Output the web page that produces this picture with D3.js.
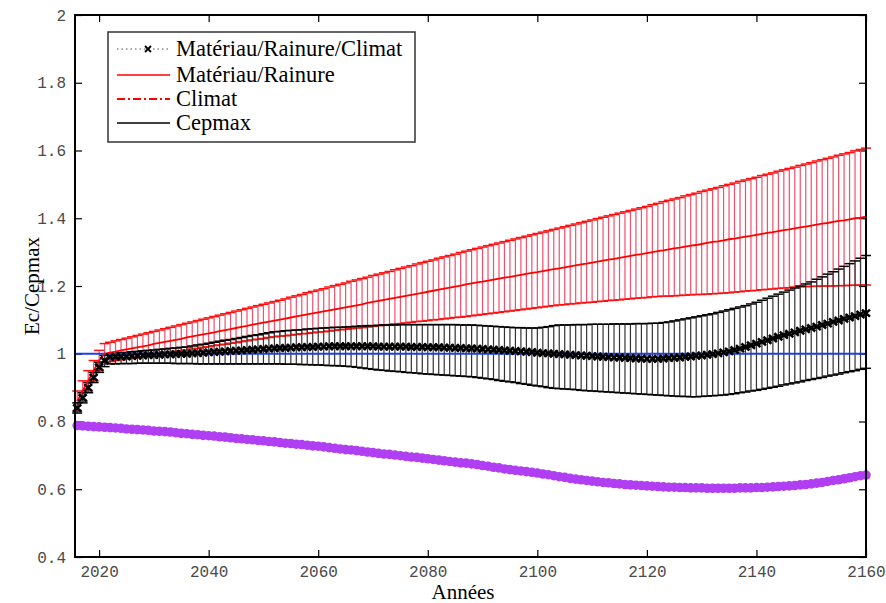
<!DOCTYPE html>
<html>
<head>
<meta charset="utf-8">
<script src="https://d3js.org/d3.v7.min.js"></script>
<style>
body { margin: 0; background: #fff; }
.tick text { font-family: "Liberation Mono", monospace; font-size: 16px; fill: #4a4a4a; }
.tick line { stroke: #000; stroke-width: 1.2px; }
.axisTitle { font-family: "Liberation Serif", serif; font-size: 21px; fill: #000; }
.legendText { font-family: "Liberation Serif", serif; font-size: 22.5px; fill: #000; }
</style>
</head>
<body>
<div id="chart"></div>
<script>
// one value per year, 2016 .. 2160
var years = d3.range(2016, 2161);

var xTicks = [2020, 2040, 2060, 2080, 2100, 2120, 2140, 2160];
var yTicks = [0.4, 0.6, 0.8, 1, 1.2, 1.4, 1.6, 1.8, 2];
var yTickLabels = ["0.4", "0.6", "0.8", "1", "1.2", "1.4", "1.6", "1.8", "2"];

var legendLabels = ["Matériau/Rainure/Climat", "Matériau/Rainure", "Climat", "Cepmax"];

var cepmaxValue = 1;

// Matériau/Rainure (red)
var redMean = [
  0.860,0.890,0.920,0.950,0.980,1.000,1.003,1.006,1.010,1.013,
  1.016,1.019,1.022,1.025,1.029,1.032,1.035,1.038,1.041,1.044,
  1.048,1.051,1.054,1.057,1.060,1.063,1.067,1.070,1.073,1.076,
  1.079,1.082,1.086,1.089,1.092,1.095,1.098,1.101,1.104,1.107,
  1.110,1.113,1.116,1.119,1.122,1.125,1.128,1.131,1.134,1.137,
  1.140,1.143,1.146,1.150,1.153,1.156,1.159,1.162,1.165,1.168,
  1.171,1.174,1.177,1.180,1.183,1.186,1.189,1.192,1.195,1.198,
  1.201,1.205,1.208,1.211,1.213,1.216,1.219,1.222,1.225,1.227,
  1.230,1.233,1.236,1.239,1.241,1.244,1.247,1.250,1.252,1.255,
  1.258,1.261,1.264,1.266,1.269,1.272,1.275,1.278,1.280,1.283,
  1.286,1.289,1.292,1.294,1.297,1.300,1.303,1.305,1.308,1.311,
  1.313,1.316,1.319,1.321,1.324,1.327,1.330,1.332,1.335,1.338,
  1.340,1.343,1.346,1.348,1.351,1.354,1.357,1.359,1.362,1.365,
  1.367,1.370,1.373,1.375,1.378,1.381,1.384,1.386,1.389,1.392,
  1.394,1.397,1.400,1.402,1.405];

var redHigh = [
  0.890,0.920,0.950,0.980,1.010,1.030,1.034,1.038,1.042,1.046,
  1.050,1.054,1.058,1.062,1.066,1.070,1.074,1.078,1.082,1.086,
  1.090,1.094,1.098,1.102,1.106,1.110,1.114,1.118,1.122,1.126,
  1.130,1.134,1.138,1.142,1.146,1.150,1.154,1.158,1.162,1.167,
  1.171,1.175,1.180,1.184,1.188,1.192,1.197,1.201,1.205,1.209,
  1.214,1.218,1.222,1.226,1.231,1.235,1.239,1.243,1.248,1.252,
  1.256,1.260,1.265,1.269,1.273,1.277,1.282,1.286,1.290,1.294,
  1.299,1.303,1.307,1.311,1.315,1.319,1.323,1.327,1.331,1.335,
  1.339,1.343,1.347,1.351,1.355,1.359,1.363,1.367,1.371,1.375,
  1.379,1.383,1.387,1.391,1.395,1.399,1.403,1.407,1.411,1.415,
  1.419,1.423,1.427,1.431,1.435,1.440,1.444,1.449,1.453,1.457,
  1.461,1.466,1.470,1.474,1.479,1.483,1.487,1.491,1.496,1.500,
  1.504,1.509,1.513,1.517,1.521,1.526,1.530,1.534,1.539,1.543,
  1.547,1.551,1.556,1.560,1.564,1.569,1.573,1.577,1.581,1.586,
  1.590,1.594,1.599,1.603,1.607];

var redLow = [
  0.830,0.860,0.890,0.920,0.950,0.975,0.977,0.980,0.982,0.985,
  0.987,0.990,0.992,0.994,0.997,0.999,1.002,1.004,1.007,1.009,
  1.011,1.014,1.016,1.019,1.021,1.024,1.026,1.028,1.031,1.033,
  1.036,1.038,1.041,1.043,1.045,1.048,1.050,1.052,1.053,1.055,
  1.057,1.059,1.060,1.062,1.064,1.065,1.067,1.069,1.071,1.072,
  1.074,1.076,1.077,1.079,1.081,1.083,1.084,1.086,1.088,1.089,
  1.091,1.093,1.095,1.096,1.098,1.100,1.101,1.103,1.105,1.107,
  1.108,1.110,1.112,1.114,1.116,1.118,1.120,1.122,1.124,1.126,
  1.128,1.130,1.132,1.134,1.136,1.138,1.140,1.142,1.144,1.145,
  1.147,1.148,1.150,1.151,1.152,1.154,1.155,1.157,1.158,1.159,
  1.161,1.162,1.164,1.165,1.166,1.168,1.169,1.170,1.170,1.171,
  1.172,1.173,1.174,1.175,1.175,1.176,1.177,1.178,1.179,1.180,
  1.182,1.183,1.185,1.186,1.187,1.189,1.190,1.191,1.193,1.194,
  1.195,1.197,1.198,1.198,1.199,1.199,1.200,1.200,1.200,1.201,
  1.201,1.202,1.202,1.203,1.203];

// Matériau/Rainure/Climat (black)
var blackMean = [
  0.840,0.870,0.900,0.930,0.960,0.980,0.990,0.991,0.992,0.992,
  0.993,0.994,0.995,0.996,0.996,0.997,0.998,0.998,0.999,1.000,
  1.000,1.001,1.002,1.003,1.004,1.005,1.006,1.007,1.008,1.009,
  1.010,1.011,1.012,1.013,1.014,1.015,1.016,1.017,1.017,1.018,
  1.019,1.019,1.020,1.020,1.021,1.021,1.022,1.022,1.022,1.022,
  1.022,1.022,1.022,1.022,1.022,1.021,1.021,1.021,1.021,1.021,
  1.021,1.020,1.020,1.020,1.019,1.019,1.019,1.018,1.018,1.017,
  1.017,1.016,1.016,1.015,1.014,1.013,1.012,1.011,1.010,1.009,
  1.008,1.007,1.006,1.005,1.003,1.002,1.001,1.000,0.999,0.998,
  0.997,0.996,0.995,0.994,0.993,0.992,0.991,0.990,0.989,0.989,
  0.988,0.987,0.986,0.986,0.985,0.985,0.985,0.986,0.987,0.988,
  0.989,0.991,0.992,0.994,0.995,0.997,0.999,1.001,1.004,1.007,
  1.011,1.015,1.020,1.025,1.030,1.035,1.040,1.045,1.050,1.055,
  1.059,1.063,1.068,1.072,1.076,1.080,1.085,1.089,1.094,1.098,
  1.103,1.107,1.111,1.116,1.120];

var blackHigh = [
  0.855,0.885,0.915,0.945,0.975,0.995,1.000,1.001,1.003,1.004,
  1.006,1.007,1.009,1.010,1.011,1.013,1.014,1.016,1.017,1.019,
  1.020,1.023,1.026,1.028,1.031,1.034,1.037,1.040,1.042,1.045,
  1.048,1.051,1.054,1.056,1.059,1.062,1.065,1.066,1.068,1.069,
  1.070,1.071,1.073,1.074,1.075,1.076,1.077,1.078,1.078,1.079,
  1.080,1.081,1.082,1.083,1.083,1.084,1.085,1.085,1.085,1.086,
  1.086,1.086,1.086,1.086,1.086,1.086,1.086,1.086,1.086,1.086,
  1.085,1.085,1.085,1.084,1.083,1.082,1.081,1.080,1.079,1.078,
  1.077,1.077,1.076,1.076,1.076,1.078,1.080,1.083,1.085,1.085,
  1.085,1.086,1.086,1.086,1.087,1.087,1.087,1.087,1.088,1.088,
  1.088,1.088,1.089,1.089,1.089,1.090,1.090,1.092,1.094,1.097,
  1.100,1.103,1.106,1.109,1.112,1.115,1.118,1.122,1.126,1.130,
  1.134,1.138,1.142,1.147,1.152,1.158,1.164,1.170,1.176,1.182,
  1.188,1.194,1.200,1.206,1.212,1.220,1.227,1.235,1.242,1.250,
  1.258,1.266,1.274,1.282,1.290];

var blackLow = [
  0.825,0.855,0.885,0.915,0.945,0.962,0.970,0.970,0.971,0.971,
  0.971,0.972,0.972,0.972,0.972,0.972,0.972,0.972,0.971,0.971,
  0.971,0.971,0.970,0.970,0.970,0.970,0.970,0.970,0.970,0.970,
  0.970,0.970,0.970,0.970,0.970,0.970,0.970,0.970,0.969,0.969,
  0.969,0.968,0.968,0.967,0.967,0.966,0.965,0.965,0.964,0.963,
  0.962,0.960,0.958,0.956,0.954,0.952,0.951,0.949,0.948,0.947,
  0.945,0.944,0.943,0.941,0.940,0.939,0.938,0.937,0.936,0.935,
  0.934,0.933,0.932,0.930,0.928,0.926,0.924,0.921,0.919,0.917,
  0.915,0.912,0.910,0.907,0.905,0.903,0.900,0.898,0.897,0.896,
  0.895,0.894,0.892,0.891,0.890,0.889,0.888,0.887,0.886,0.885,
  0.884,0.883,0.882,0.881,0.880,0.879,0.878,0.877,0.876,0.875,
  0.874,0.874,0.873,0.873,0.874,0.875,0.876,0.877,0.878,0.880,
  0.882,0.885,0.887,0.890,0.892,0.895,0.898,0.901,0.904,0.908,
  0.911,0.914,0.917,0.921,0.924,0.927,0.930,0.934,0.937,0.940,
  0.944,0.947,0.950,0.954,0.957];

// purple curve
var purpleLine = [
  0.788,0.787,0.786,0.785,0.784,0.783,0.782,0.781,0.780,0.778,
  0.777,0.776,0.775,0.774,0.772,0.771,0.770,0.769,0.767,0.765,
  0.764,0.762,0.761,0.759,0.758,0.757,0.755,0.754,0.752,0.750,
  0.749,0.747,0.746,0.744,0.743,0.741,0.740,0.738,0.736,0.735,
  0.733,0.732,0.730,0.728,0.727,0.725,0.723,0.721,0.719,0.717,
  0.716,0.714,0.712,0.710,0.708,0.706,0.704,0.703,0.701,0.699,
  0.697,0.695,0.694,0.692,0.690,0.688,0.686,0.684,0.682,0.680,
  0.678,0.677,0.675,0.673,0.670,0.668,0.665,0.663,0.660,0.658,
  0.656,0.654,0.652,0.650,0.648,0.645,0.643,0.640,0.637,0.635,
  0.632,0.630,0.628,0.626,0.624,0.622,0.620,0.619,0.617,0.616,
  0.614,0.613,0.612,0.611,0.610,0.609,0.608,0.607,0.606,0.606,
  0.605,0.605,0.604,0.604,0.604,0.603,0.603,0.603,0.603,0.603,
  0.603,0.604,0.604,0.604,0.605,0.605,0.606,0.607,0.608,0.609,
  0.610,0.611,0.613,0.614,0.616,0.618,0.620,0.623,0.626,0.628,
  0.631,0.634,0.637,0.640,0.642];

var margin = {top: 15, right: 20, bottom: 46, left: 75};
var width = 886 - margin.left - margin.right,
    height = 603 - margin.top - margin.bottom;

var svg = d3.select("#chart").append("svg")
    .attr("width", 886)
    .attr("height", 603);

var chart = svg.append("g")
    .attr("transform", "translate(" + margin.left + "," + margin.top + ")");

var x = d3.scaleLinear().domain([2015.6, 2160]).range([0, width]);
var y = d3.scaleLinear().domain([0.4, 2]).range([height, 0]);

// axes, ticks pointing inward
chart.append("g")
    .attr("transform", "translate(0," + height + ")")
    .call(d3.axisBottom(x).tickValues(xTicks).tickFormat(d3.format("d"))
        .tickSizeInner(-7).tickSizeOuter(0).tickPadding(9));
chart.append("g")
    .call(d3.axisTop(x).tickValues(xTicks).tickFormat("")
        .tickSizeInner(-7).tickSizeOuter(0));
chart.append("g")
    .call(d3.axisLeft(y).tickValues(yTicks)
        .tickFormat(function(d, i) { return yTickLabels[i]; })
        .tickSizeInner(-7).tickSizeOuter(0).tickPadding(9));
chart.append("g")
    .attr("transform", "translate(" + width + ",0)")
    .call(d3.axisRight(y).tickValues(yTicks).tickFormat("")
        .tickSizeInner(-7).tickSizeOuter(0));
chart.selectAll(".domain").remove();

function drawErrorBars(lows, highs, barColor, capColor) {
    var g = chart.append("g");
    g.selectAll(".ebar").data(years)
        .enter().append("line")
        .attr("class", "ebar")
        .attr("x1", function(d) { return x(d); })
        .attr("x2", function(d) { return x(d); })
        .attr("y1", function(d, i) { return y(lows[i]); })
        .attr("y2", function(d, i) { return y(highs[i]); })
        .attr("stroke", barColor)
        .attr("stroke-width", 1.2);
    [lows, highs].forEach(function(vals) {
        g.selectAll(null).data(years)
            .enter().append("line")
            .attr("x1", function(d) { return x(d) - 5; })
            .attr("x2", function(d) { return x(d) + 5; })
            .attr("y1", function(d, i) { return y(vals[i]); })
            .attr("y2", function(d, i) { return y(vals[i]); })
            .attr("stroke", capColor)
            .attr("stroke-width", 1.5);
    });
}

drawErrorBars(redLow, redHigh, "#f0506c", "#ff1010");
drawErrorBars(blackLow, blackHigh, "#333", "#000");

// Cepmax level
chart.append("line")
    .attr("x1", 0).attr("x2", width)
    .attr("y1", y(cepmaxValue)).attr("y2", y(cepmaxValue))
    .attr("stroke", "#1f3fe0")
    .attr("stroke-width", 2);

chart.selectAll(".purpleDot").data(years)
    .enter().append("circle")
    .attr("class", "purpleDot")
    .attr("cx", function(d) { return x(d); })
    .attr("cy", function(d, i) { return y(purpleLine[i]); })
    .attr("r", 4.8)
    .attr("fill", "#b03ef2");

var line = function(vals) {
    return d3.line()
        .x(function(d) { return x(d); })
        .y(function(d, i) { return y(vals[i]); })(years);
};

chart.append("path")
    .attr("d", line(redMean))
    .attr("fill", "none")
    .attr("stroke", "#ff0000")
    .attr("stroke-width", 1.8);

chart.append("path")
    .attr("d", line(blackMean))
    .attr("fill", "none")
    .attr("stroke", "#000")
    .attr("stroke-width", 2)
    .attr("stroke-dasharray", "1,2");

chart.selectAll(".xMark").data(years)
    .enter().append("path")
    .attr("class", "xMark")
    .attr("d", "M-4,-3.5L4,3.5M-4,3.5L4,-3.5")
    .attr("transform", function(d, i) { return "translate(" + x(d) + "," + y(blackMean[i]) + ")"; })
    .attr("stroke", "#000")
    .attr("stroke-width", 2.5);

// frame
chart.append("rect")
    .attr("width", width)
    .attr("height", height)
    .attr("fill", "none")
    .attr("stroke", "#000")
    .attr("stroke-width", 2);

// axis titles
svg.append("text")
    .attr("class", "axisTitle")
    .attr("x", 463)
    .attr("y", 599)
    .attr("text-anchor", "middle")
    .text("Années");
svg.append("text")
    .attr("class", "axisTitle")
    .attr("transform", "translate(39,286) rotate(-90)")
    .attr("text-anchor", "middle")
    .text("Ec/Cepmax");

// legend
var legend = svg.append("g");
legend.append("rect")
    .attr("x", 108).attr("y", 32)
    .attr("width", 307).attr("height", 110)
    .attr("fill", "#fff")
    .attr("stroke", "#333")
    .attr("stroke-width", 1.5);

var legendY = [49, 75, 99, 123];
var legendStyles = [
    {color: "#555", dash: "1.5,3", width: 1},
    {color: "#ff0000", dash: null, width: 1.5},
    {color: "#ff0000", dash: "8,3,2,3", width: 2},
    {color: "#000", dash: null, width: 1.5}
];

legendLabels.forEach(function(label, i) {
    legend.append("line")
        .attr("x1", 117).attr("x2", 170)
        .attr("y1", legendY[i]).attr("y2", legendY[i])
        .attr("stroke", legendStyles[i].color)
        .attr("stroke-width", legendStyles[i].width)
        .attr("stroke-dasharray", legendStyles[i].dash);
    legend.append("text")
        .attr("class", "legendText")
        .attr("x", 176)
        .attr("y", legendY[i] + 7)
        .text(label);
});
legend.append("path")
    .attr("d", "M-3,-3L3,3M-3,3L3,-3")
    .attr("transform", "translate(148," + legendY[0] + ")")
    .attr("stroke", "#000")
    .attr("stroke-width", 1.8);
</script>
</body>
</html>
